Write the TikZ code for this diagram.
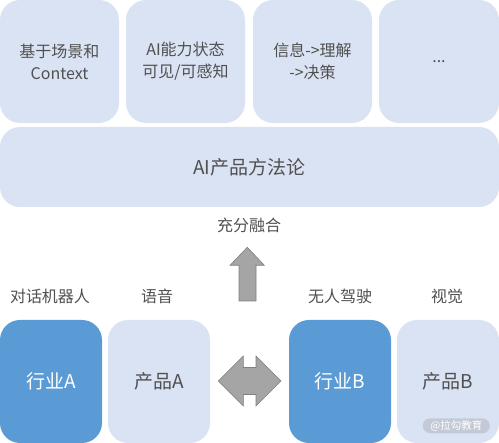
\documentclass[tikz,border=0pt]{standalone}
\usepackage{fontspec}
\setmainfont{Noto Sans CJK SC}
\definecolor{boxlight}{HTML}{DAE3F3}
\definecolor{boxdark}{HTML}{5B9BD5}
\definecolor{txtgray}{HTML}{505050}
\definecolor{arrowfill}{HTML}{A5A5A5}
\definecolor{arrowline}{HTML}{808080}
\definecolor{markgray}{HTML}{C3CAD6}
\tikzset{
  lightbox/.style={fill=boxlight, rounded corners=20pt, inner sep=0pt, align=center, text=txtgray},
  darkbox/.style={lightbox, fill=boxdark, text=white},
  toptext/.style={font=\fontsize{16}{22}\selectfont},
  bigtext/.style={font=\fontsize{19}{22}\selectfont},
  labeltext/.style={text=txtgray, inner sep=0pt, font=\fontsize{16}{18}\selectfont},
  blockarrow/.style={fill=arrowfill, draw=arrowline, line width=0.6pt}
}
\begin{document}
\begin{tikzpicture}[x=1pt, y=-1pt]
\useasboundingbox (0,0) rectangle (499,443);
% top row
\node[lightbox, toptext, minimum width=119, minimum height=123] (scene) at (59.5,61.5) {基于场景和\\Context};
\node[lightbox, toptext, minimum width=119, minimum height=123] (state) at (185.5,61.5) {AI能力状态\\可见/可感知};
\node[lightbox, toptext, minimum width=119, minimum height=123] (decide) at (312.5,61.5) {信息->理解\\->决策};
\node[lightbox, toptext, minimum width=120, minimum height=123] (more) at (439,61.5) {...};
% method
\node[lightbox, bigtext, minimum width=499, minimum height=80] (method) at (249.5,167) {AI产品方法论};
\node[labeltext] (fuse) at (249,225) {充分融合};
\filldraw[blockarrow] (239,301) -- (239,265.3) -- (230,265.3) -- (247.3,247.3) -- (264.3,265.3) -- (256,265.3) -- (256,301) -- cycle;
% labels
\node[labeltext] (chat) at (50,296) {对话机器人};
\node[labeltext] (voice) at (157,296) {语音};
\node[labeltext] (drive) at (340,296) {无人驾驶};
\node[labeltext] (vision) at (447,296) {视觉};
% bottom row
\node[darkbox, bigtext, minimum width=102, minimum height=123] (indA) at (51,381.5) {行业A};
\node[lightbox, bigtext, minimum width=102, minimum height=123] (prodA) at (159,381.5) {产品A};
\node[darkbox, bigtext, minimum width=102, minimum height=123] (indB) at (340,381.5) {行业B};
\node[lightbox, bigtext, minimum width=102, minimum height=123] (prodB) at (448,381.5) {产品B};
\filldraw[blockarrow] (218.3,381) -- (243.3,356) -- (243.3,367.5) -- (256,367.5) -- (256,356) -- (281,381) -- (256,406) -- (256,394.5) -- (243.3,394.5) -- (243.3,406) -- cycle;
% watermark
\node[fill=markgray, rounded corners=7.5pt, minimum width=67, minimum height=15, inner sep=0pt, text=white, font=\fontsize{10.5}{11}\selectfont] (mark) at (456.3,425.8) {@拉勾教育};
\end{tikzpicture}
\end{document}
